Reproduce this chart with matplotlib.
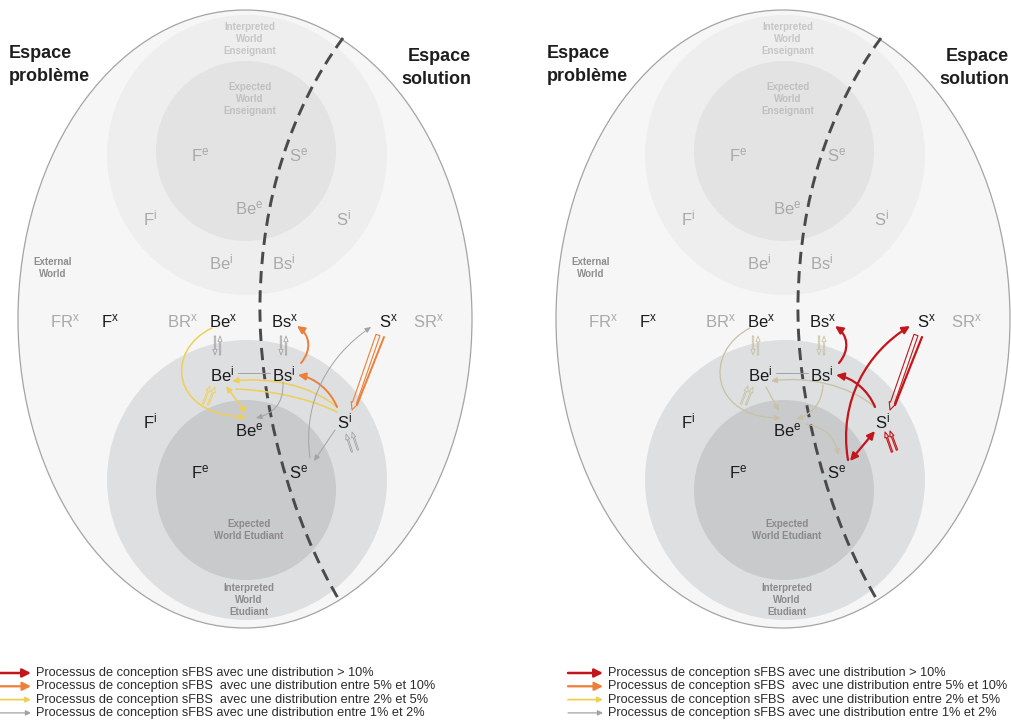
import matplotlib.pyplot as plt
from matplotlib.patches import Ellipse, Circle, FancyArrowPatch, PathPatch
from matplotlib.path import Path

plt.rcParams['font.family'] = ['Liberation Sans', 'DejaVu Sans']
plt.rcParams['mathtext.fontset'] = 'custom'
plt.rcParams['mathtext.rm'] = 'Liberation Sans'

# --- contenu du diagramme (coordonnées en pixels, panneau gauche) ---
panel_offsets = [0, 538]
legend_offsets = [0, 572]

# étiquettes grises du monde "Enseignant" (haut)
top_labels = ['F^e', 'S^e', 'Be^e', 'F^i', 'S^i', 'Be^i', 'Bs^i']
top_pos = [(200, 155), (299, 155), (249, 208), (150, 218), (344, 218), (221, 262), (284, 262)]

# ligne des états externes
ext_labels = ['FR^x', 'F^x', 'BR^x', 'Be^x', 'Bs^x', 'S^x', 'SR^x']
ext_pos = [(65, 321), (110, 321), (182, 321), (223, 321), (285, 321), (388, 321), (428, 321)]
ext_dark = [False, True, False, True, True, True, False]

# étiquettes du monde "Etudiant" (bas)
low_labels = ['Be^i', 'Bs^i', 'F^i', 'S^i', 'Be^e', 'F^e', 'S^e']
low_pos = [(222, 374), (284, 374), (150, 421), (345, 421), (249, 430), (200, 472), (299, 472)]

world_labels = ['Interpreted\nWorld\nEnseignant', 'Expected\nWorld\nEnseignant',
                'External\nWorld', 'Expected\nWorld Etudiant', 'Interpreted\nWorld\nEtudiant']
world_pos = [(250, 39), (250, 99), (53, 268), (249, 530), (249, 600)]
world_colors = ['#c6c6c6', '#c0c0c0', '#8e8e8e', '#8a8a8a', '#8a8a8a']

# catégories de distribution
cat_colors = {'r': '#c3161c', 'o': '#ec7f3a', 'y': '#efcf55', 'g': '#a3a3a3', 't': '#c9c1a3'}
cat_widths = {'r': 1.6, 'o': 1.4, 'y': 1.1, 'g': 0.7, 't': 0.9}

legend_texts = ['Processus de conception sFBS avec une distribution > 10%',
                'Processus de conception sFBS  avec une distribution entre 5% et 10%',
                'Processus de conception sFBS  avec une distribution entre 2% et 5%',
                'Processus de conception sFBS avec une distribution entre 1% et 2%']
legend_cats = ['r', 'o', 'y', 'g']

# processus (courbes) : points de contrôle, catégorie, style
left_edges = [
    ([(212, 328), (165, 350), (170, 415), (246, 417)], 'y', '->'),
    ([(337, 407), (310, 385), (270, 377), (232, 381)], 'y', '->'),
    ([(337, 412), (305, 396), (262, 390), (236, 389)], 'y', '-'),
    ([(226, 386), (246, 413)], 'y', '<->'),
    ([(337, 407), (330, 390), (315, 378), (298, 375)], 'o', '->'),
    ([(301, 363), (312, 350), (310, 335), (297, 326)], 'o', '->'),
    ([(310, 458), (302, 400), (330, 355), (371, 327)], 'g', '->'),
    ([(335, 430), (314, 461)], 'g', '->'),
    ([(283, 382), (284, 405), (272, 414), (256, 418)], 'g', '->'),
    ([(238, 373), (270, 373)], 'g', '-'),
    ([(384, 337), (357, 405)], 'o', '-'),
]
left_hollow = [
    ((215, 336), (215, 355), 'g'), ((220, 355), (220, 336), 'g'),
    ((281, 336), (281, 355), 'g'), ((286, 355), (286, 336), 'g'),
    ((203, 404), (210, 386), 'y'), ((208, 405), (215, 387), 'y'),
    ((378, 335), (352, 410), 'o'),
    ((352, 452), (346, 434), 'g'), ((358, 450), (352, 432), 'g'),
]

right_edges = [
    ([(212, 328), (165, 352), (172, 418), (243, 418)], 't', '->'),
    ([(238, 373), (270, 373)], 'g', '-'),
    ([(337, 407), (310, 385), (270, 376), (233, 381)], 't', '->'),
    ([(228, 387), (241, 411)], 't', '->'),
    ([(285, 385), (284, 405), (272, 415), (258, 419)], 't', '->'),
    ([(268, 424), (290, 428), (298, 440), (300, 455)], 't', '->'),
    ([(337, 407), (330, 390), (315, 378), (298, 375)], 'r', '->'),
    ([(301, 363), (312, 350), (310, 335), (297, 326)], 'r', '->'),
    ([(310, 460), (300, 400), (330, 352), (372, 326)], 'r', '->'),
    ([(312, 461), (337, 431)], 'r', '<->'),
    ([(384, 337), (357, 405)], 'r', '-'),
]
right_hollow = [
    ((215, 336), (215, 355), 't'), ((220, 355), (220, 336), 't'),
    ((281, 336), (281, 355), 't'), ((286, 355), (286, 336), 't'),
    ((203, 404), (210, 386), 't'), ((208, 405), (215, 387), 't'),
    ((378, 335), (352, 410), 'r'),
    ((354, 452), (347, 432), 'r'), ((359, 450), (352, 431), 'r'),
]

# ligne pointillée (frontière problème / solution)
border_pts = [(343, 38), (290, 110), (262, 200), (260, 300),
              (258, 400), (290, 520), (341, 603)]


def sup(s):
    base, exp = s.split('^')
    return r'$\mathregular{' + base + '^{' + exp + '}}$'


fig = plt.figure(figsize=(10.11, 7.26), dpi=100)
ax = fig.add_axes([0, 0, 1, 1])
ax.set_xlim(0, 1011)
ax.set_ylim(726, 0)
ax.axis('off')


def draw_edge(pts, cat, style, dx):
    pts = [(x + dx, y) for x, y in pts]
    if len(pts) == 2:
        path = Path(pts, [Path.MOVETO, Path.LINETO])
    else:
        path = Path(pts, [Path.MOVETO, Path.CURVE4, Path.CURVE4, Path.CURVE4])
    hs = 'head_length=0.45,head_width=0.22' if cat in 'ro' else 'head_length=0.35,head_width=0.16'
    st = style if style == '-' else style.replace('>', '|>').replace('<', '<|') + ',' + hs
    ax.add_patch(FancyArrowPatch(path=path, arrowstyle=st, mutation_scale=10,
                                 color=cat_colors[cat], lw=cat_widths[cat], zorder=4))


def draw_hollow(a, b, cat, dx):
    wide = cat in 'ro' and abs(a[1] - b[1]) > 40
    st = ('simple,head_length=0.55,head_width=0.5,tail_width=0.3' if wide
          else 'simple,head_length=0.4,head_width=0.3,tail_width=0.1')
    ax.add_patch(FancyArrowPatch((a[0] + dx, a[1]), (b[0] + dx, b[1]), arrowstyle=st,
                                 mutation_scale=10, fc='none', ec=cat_colors[cat],
                                 lw=0.8 if cat in 'ro' else 0.6, shrinkA=0, shrinkB=0, zorder=4))


for p, dx in enumerate(panel_offsets):
    ax.add_patch(Ellipse((245 + dx, 319), 454, 618, fc='#f6f6f6', ec='#a4a4a4', lw=0.9, zorder=1))
    ax.add_patch(Circle((247 + dx, 155), 140, fc='#eeeeee', ec='none', zorder=1))
    ax.add_patch(Circle((246 + dx, 151), 90, fc='#e3e3e3', ec='none', zorder=1))
    ax.add_patch(Circle((247 + dx, 480), 140, fc='#dedfe1', ec='none', zorder=1))
    ax.add_patch(Circle((246 + dx, 490), 90, fc='#c9cacc', ec='none', zorder=1))

    bp = [(x + dx, y) for x, y in border_pts]
    codes = [Path.MOVETO] + [Path.CURVE4] * 6
    ax.add_patch(PathPatch(Path(bp, codes), fill=False, ec='#4a4a4a', lw=2.1,
                           ls=(0, (4.2, 2.4)), capstyle='butt', zorder=3))

    ax.text(9 + dx, 65, 'Espace\nproblème', fontsize=13, fontweight='bold',
            ha='left', va='center', linespacing=1.45, color='#1e1e1e', zorder=5)
    ax.text(471 + dx, 68, 'Espace\nsolution', fontsize=13, fontweight='bold',
            ha='right', va='center', linespacing=1.45, multialignment='right',
            color='#1e1e1e', zorder=5)

    for lab, (x, y) in zip(top_labels, top_pos):
        ax.text(x + dx, y, sup(lab), fontsize=12, color='#a9a9a9', ha='center', va='center', zorder=5)
    for lab, (x, y), dark in zip(ext_labels, ext_pos, ext_dark):
        ax.text(x + dx, y, sup(lab), fontsize=12, color='#1a1a1a' if dark else '#a9a9a9',
                ha='center', va='center', zorder=5)
    for lab, (x, y) in zip(low_labels, low_pos):
        ax.text(x + dx, y, sup(lab), fontsize=12, color='#1a1a1a', ha='center', va='center', zorder=5)
    for lab, (x, y), c in zip(world_labels, world_pos, world_colors):
        ax.text(x + dx, y, lab, fontsize=7, color=c, ha='center', va='center',
                linespacing=1.25, fontweight='bold', zorder=5)

    edges = left_edges if p == 0 else right_edges
    hollow = left_hollow if p == 0 else right_hollow
    for pts, cat, style in edges:
        draw_edge(pts, cat, style, dx)
    for a, b, cat in hollow:
        draw_hollow(a, b, cat, dx)

# légendes
for dx in legend_offsets:
    for i, (txt, cat) in enumerate(zip(legend_texts, legend_cats)):
        y = 673 + 13.3 * i
        hs = 'head_length=0.5,head_width=0.25' if cat in 'ro' else 'head_length=0.3,head_width=0.15'
        ax.add_patch(FancyArrowPatch((-4 + dx, y), (31 + dx, y), arrowstyle='-|>,' + hs,
                                     mutation_scale=10, color=cat_colors[cat],
                                     lw=cat_widths[cat] + 0.2, shrinkA=0, shrinkB=0))
        ax.text(36 + dx, y, txt, fontsize=9.2, color='#2a2a2a', ha='left', va='center')

fig.savefig('out.png', dpi=100)
